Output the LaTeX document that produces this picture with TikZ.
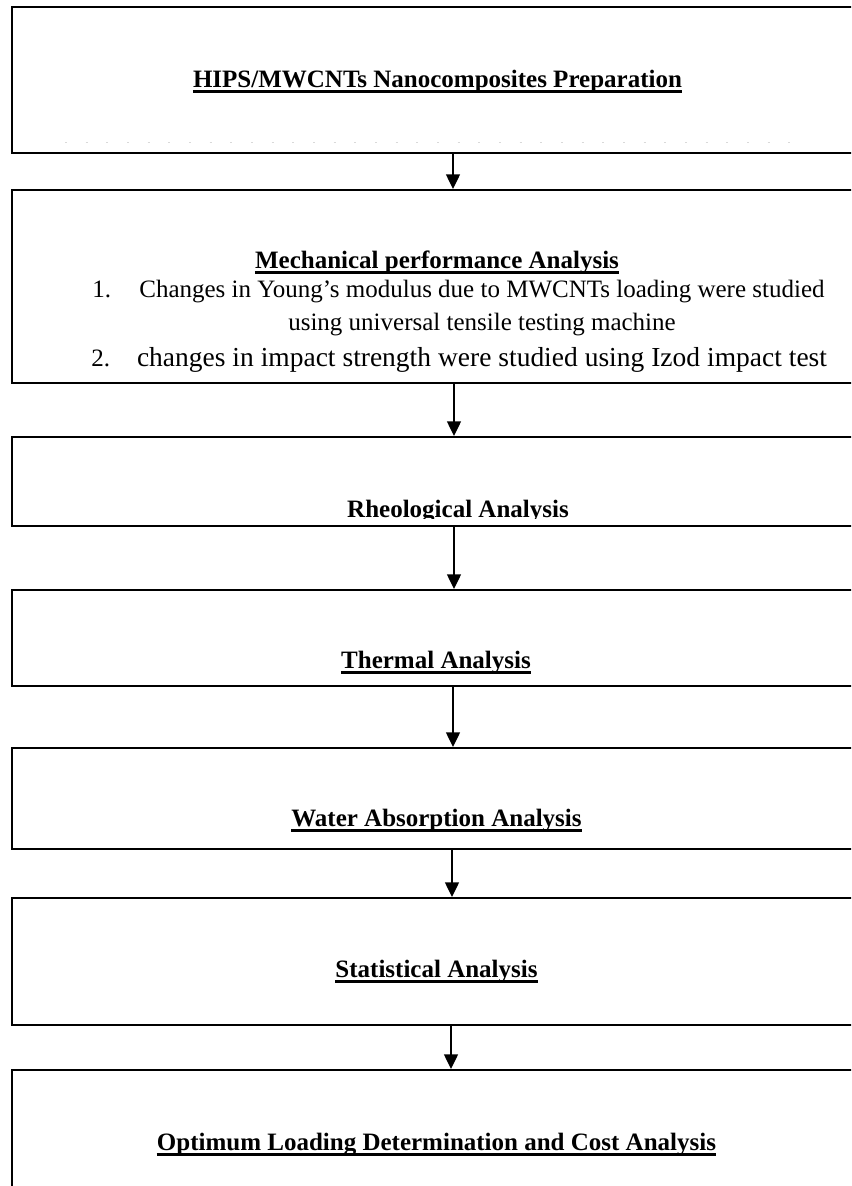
\documentclass[tikz,border=0pt]{standalone}
\usepackage{fontspec}
\setmainfont{Liberation Serif}
\usetikzlibrary{arrows.meta,fit,calc}
\begin{document}
\begin{tikzpicture}[x=0.75pt,y=-0.75pt,
  box/.style={draw, line width=1.5pt, inner sep=0pt},
  arr/.style={line width=1pt, -{Triangle[width=10.5pt,length=11pt]}},
  ttl/.style={font=\fontsize{18.75pt}{22pt}\selectfont\bfseries, inner sep=0pt, anchor=base},
  txt/.style={font=\fontsize{18.75pt}{22pt}\selectfont, inner sep=0pt, anchor=base},
  uline/.style={line width=1.6pt}]
\useasboundingbox (0,0) rectangle (851,1186);
\clip (0,0) rectangle (851,1186);
% boxes
\node[box, fit={(12,7) (900,153)}] (b1) {};
\node[box, fit={(12,190) (900,383)}] (b2) {};
\node[box, fit={(12,437) (900,526)}] (b3) {};
\node[box, fit={(12,590) (900,686)}] (b4) {};
\node[box, fit={(12,748) (900,849)}] (b5) {};
\node[box, fit={(12,898) (900,1025)}] (b6) {};
\node[box, fit={(12,1070) (900,1260)}] (b7) {};
% faint residue in first box
\draw[gray!30, line width=0.6pt, dash pattern=on 1.5pt off 14pt] (65,142) -- (805,142);
% titles
\node[ttl] (t1) at (437.5,87) {HIPS/MWCNTs Nanocomposites Preparation};
\draw[uline] ($(t1.base west)+(0,4.5)$) -- ($(t1.base east)+(0,4.5)$);
\node[ttl] (t2) at (437,268) {Mechanical performance Analysis};
\draw[uline] ($(t2.base west)+(0,4.5)$) -- ($(t2.base east)+(0,4.5)$);
\begin{scope}
  \clip (0,0) rectangle (851,518);
  \node[ttl] (t3) at (458,517) {Rheological Analysis};
\end{scope}
\node[ttl] (t4) at (436,668) {Thermal Analysis};
\draw[uline] ($(t4.base west)+(0,4.5)$) -- ($(t4.base east)+(0,4.5)$);
\node[ttl] (t5) at (436.5,826) {Water Absorption Analysis};
\draw[uline] ($(t5.base west)+(0,4.5)$) -- ($(t5.base east)+(0,4.5)$);
\node[ttl] (t6) at (436.5,977) {Statistical Analysis};
\draw[uline] ($(t6.base west)+(0,4.5)$) -- ($(t6.base east)+(0,4.5)$);
\node[ttl] (t7) at (436.5,1150) {Optimum Loading Determination and Cost Analysis};
\draw[uline] ($(t7.base west)+(0,4.5)$) -- ($(t7.base east)+(0,4.5)$);
% list in box 2
\node[txt, anchor=base west] (n1) at (92,297) {1.};
\node[txt] (l1) at (482,297) {Changes in Young’s modulus due to MWCNTs loading were studied};
\node[txt] (l2) at (482,330) {using universal tensile testing machine};
\node[txt, anchor=base west] (n2) at (91,366) {2.};
\node[txt] (l3) at (482,366) {\makebox[517.5pt][s]{\fontsize{20.6pt}{24pt}\selectfont changes in impact strength were studied using Izod impact test}};
% arrows
\coordinate (a1) at (453,0);
\coordinate (a2) at (454,0);
\coordinate (a3) at (454,0);
\coordinate (a4) at (453,0);
\coordinate (a5) at (452,0);
\coordinate (a6) at (451,0);
\draw[arr] (b1.south -| a1) -- (b2.north -| a1);
\draw[arr] (b2.south -| a2) -- (b3.north -| a2);
\draw[arr] (b3.south -| a3) -- (b4.north -| a3);
\draw[arr] (b4.south -| a4) -- (b5.north -| a4);
\draw[arr] (b5.south -| a5) -- (b6.north -| a5);
\draw[arr] (b6.south -| a6) -- (b7.north -| a6);
\end{tikzpicture}
\end{document}
